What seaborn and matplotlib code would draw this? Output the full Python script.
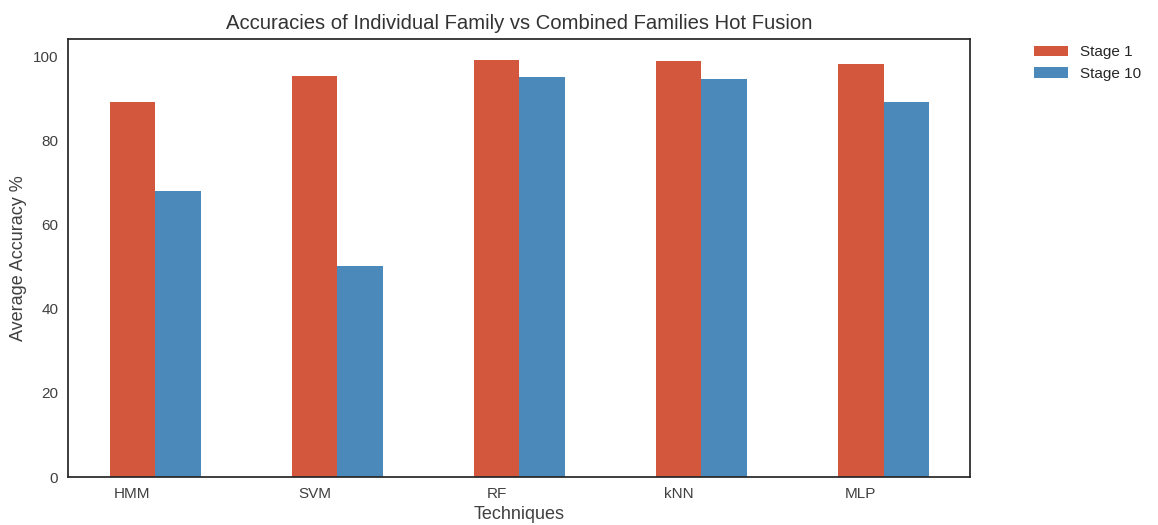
import numpy as np
import pandas as pd
import matplotlib
matplotlib.use("Agg")
import matplotlib.pyplot as plt
import seaborn as sns

# Data
techniques = ["HMM", "SVM", "RF", "kNN", "MLP"]
stage_1 = [89.2, 95.4, 99.3, 99.0, 98.2]
stage_10 = [68.1, 50.1, 95.1, 94.6, 89.1]
stages = ["Stage 1", "Stage 10"]
colors = ["#D3573D", "#4A89BA"]

df = pd.DataFrame({
    "Techniques": techniques * 2,
    "Accuracy": stage_1 + stage_10,
    "Stage": [stages[0]] * len(techniques) + [stages[1]] * len(techniques),
})

sns.set_style("white")
plt.rcParams["font.family"] = ["Liberation Sans", "DejaVu Sans"]
plt.rcParams["axes.edgecolor"] = "0.15"
plt.rcParams["axes.linewidth"] = 1.25

fig = plt.figure(figsize=(11.58, 5.25), dpi=100)
ax = fig.add_axes([0.0587, 0.0914, 0.779, 0.8343])

sns.barplot(
    data=df, x="Techniques", y="Accuracy", hue="Stage",
    palette=colors, width=0.5, saturation=1, linewidth=0, ax=ax,
)

# tick labels sit under the first bar of each group
ax.set_xticks(np.arange(len(techniques)) - 0.125)
ax.set_xticklabels(techniques, fontsize=11, color="0.25")
ax.set_xlim(-0.479, 4.475)
ax.set_ylim(0, 104.2)
ax.set_yticks([0, 20, 40, 60, 80, 100])
ax.tick_params(axis="y", labelsize=11, labelcolor="0.25")

ax.set_title("Accuracies of Individual Family vs Combined Families Hot Fusion",
             fontsize=14.6, color="0.2", pad=7)
ax.set_xlabel("Techniques", fontsize=13, color="0.25")
ax.set_ylabel("Average Accuracy %", fontsize=13, color="0.25")

ax.legend(bbox_to_anchor=(1.056, 1.017), loc="upper left", frameon=False,
          fontsize=11, title=None, handlelength=2.2)

fig.savefig("out.png", dpi=100)
